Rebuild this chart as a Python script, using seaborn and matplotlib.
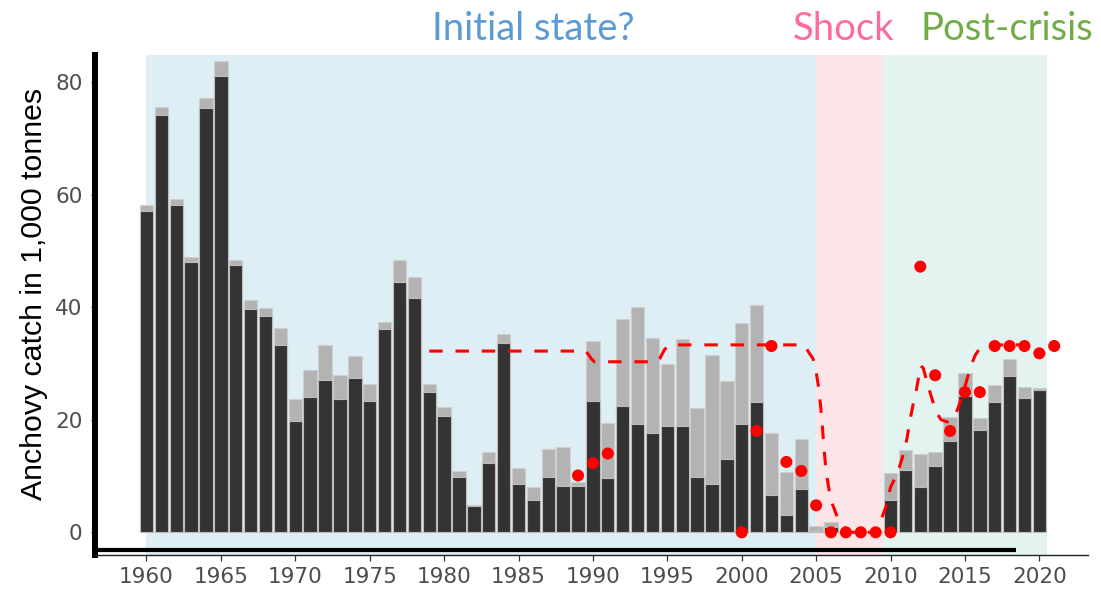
import numpy as np
import pandas as pd
import matplotlib
matplotlib.use("Agg")
import matplotlib.pyplot as plt
import seaborn as sns

# Annual anchovy catch (thousand tonnes): total landings and the retained part
years = list(range(1960, 2021))
catch_total = [58.2, 75.5, 59.3, 48.9, 77.2, 83.8, 48.3, 41.2, 39.9, 36.3,
               23.6, 28.9, 33.3, 28.0, 31.3, 26.4, 37.4, 48.3, 45.3, 26.3,
               22.2, 10.9, 4.9, 14.3, 35.2, 11.5, 8.0, 14.8, 15.1, 9.0,
               34.0, 19.5, 37.9, 40.1, 34.6, 29.9, 34.3, 22.0, 31.5, 26.9,
               37.1, 40.4, 17.6, 10.8, 16.5, 1.1, 1.9, 0.0, 0.0, 0.0,
               10.5, 14.6, 14.0, 14.3, 20.4, 28.3, 20.3, 26.1, 30.8, 25.9,
               25.6]
catch_main = [57.1, 74.1, 58.2, 48.1, 75.3, 81.0, 47.5, 39.6, 38.5, 33.3,
              19.8, 24.0, 27.0, 23.6, 27.5, 23.4, 36.2, 44.5, 41.7, 25.0,
              20.6, 9.9, 4.7, 12.4, 33.6, 8.5, 5.7, 9.9, 8.2, 8.2,
              23.3, 9.6, 22.5, 19.2, 17.6, 18.9, 18.9, 9.9, 8.5, 13.1,
              19.2, 23.1, 6.6, 3.0, 7.7, 0.2, 0.9, 0.0, 0.0, 0.0,
              5.8, 11.1, 8.0, 11.8, 16.2, 24.2, 18.1, 23.1, 27.8, 23.9,
              25.3]

# Annual quota / advice points
quota_years = [1989, 1990, 1991, 2000, 2001, 2002, 2003, 2004, 2005, 2006,
               2007, 2008, 2009, 2010, 2012, 2013, 2014, 2015, 2016, 2017,
               2018, 2019, 2020, 2021]
quota_vals = [10.1, 12.3, 14.0, 0.0, 18.0, 33.1, 12.5, 10.9, 4.8, 0.0,
              0.0, 0.0, 0.0, 0.0, 47.2, 27.9, 18.0, 24.9, 24.9, 33.1,
              33.1, 33.1, 31.8, 33.1]

# Reference level curve
ref_x = [1979, 1989.5, 1989.7, 1989.9, 1990.1, 1994.3, 1994.5, 1994.8, 1995.1,
         2004.2, 2004.5, 2004.8, 2005.0, 2005.15, 2005.3, 2005.4, 2005.5, 2005.6,
         2005.75, 2005.9, 2006.1, 2006.35, 2006.7, 2007.2, 2009.2, 2009.4, 2009.7,
         2010.0, 2010.3, 2010.6, 2010.9, 2011.1, 2011.3, 2011.5, 2011.7, 2011.85,
         2012.0, 2012.2, 2012.5, 2012.8, 2013.1, 2013.4, 2013.8, 2014.2, 2014.5,
         2014.8, 2015.1, 2015.4, 2015.7, 2016.0, 2016.4, 2019.0]
ref_y = [32.2, 32.2, 31.6, 30.8, 30.3, 30.3, 30.9, 32.4, 33.3,
         33.3, 32.0, 30.8, 28.5, 26.0, 22.5, 19.5, 16.0, 12.8,
         9.5, 7.0, 5.0, 3.2, 1.3, 0.0, 0.0, 2.5, 4.6,
         8.0, 9.6, 11.6, 14.2, 16.6, 19.8, 22.5, 24.8, 27.0,
         29.6, 29.2, 26.2, 23.6, 21.2, 20.0, 19.6, 20.2, 21.8,
         24.2, 26.8, 29.6, 31.5, 32.7, 33.3, 33.3]

# Periods
periods = ["Initial state?", "Shock", "Post-crisis"]
period_start = [1960, 2005, 2009.5]
period_end = [2005, 2009.5, 2020.5]
period_fill = ["#deeef5", "#fde4e7", "#e3f4f0"]
period_text = ["#5b9bd5", "#ff6b99", "#70ad47"]

sns.set_theme(style="white")
plt.rcParams["font.family"] = ["DejaVu Sans"]

W, H = 1101, 590
fig = plt.figure(figsize=(W / 100, H / 100), dpi=100)
ax = fig.add_axes([95 / W, 35 / H, (1088 - 95) / W, (555 - 55) / H])

for s, e, c in zip(period_start, period_end, period_fill):
    ax.axvspan(s, e, color=c, lw=0, zorder=0)

df = pd.DataFrame({"year": years, "total": catch_total, "main": catch_main})
sns.barplot(data=df, x="year", y="total", native_scale=True, color="#b3b3b3",
            saturation=1, width=0.9, edgecolor="#cfcfcf", linewidth=0.8,
            errorbar=None, ax=ax, zorder=2)
sns.barplot(data=df, x="year", y="main", native_scale=True, color="#333333",
            saturation=1, width=0.9, edgecolor="#bdbdbd", linewidth=0.8,
            errorbar=None, ax=ax, zorder=3)

sns.lineplot(x=ref_x, y=ref_y, sort=False, estimator=None, color="#ff0000",
             lw=2.2, dashes=False, ax=ax, zorder=4)
ax.lines[-1].set_dashes([4.4, 4.2])

sns.scatterplot(x=quota_years, y=quota_vals, color="#ff0000", s=75,
                edgecolor="none", ax=ax, zorder=5, clip_on=False)

ax.set_xlim(1956.54, 2023.27)
ax.set_ylim(-4.03, 84.8)
ax.set_xticks(list(range(1960, 2021, 5)))
ax.set_yticks([0, 20, 40, 60, 80])
ax.set_xlabel("")
ax.set_ylabel("Anchovy catch in 1,000 tonnes", fontsize=21.8, color="black",
              family=["Liberation Sans", "DejaVu Sans"])
ax.yaxis.set_label_coords(-0.0473, 0.522)

for side in ["top", "right"]:
    ax.spines[side].set_visible(False)
ax.spines["left"].set_linewidth(4.3)
ax.spines["left"].set_color("black")
ax.spines["bottom"].set_linewidth(1.0)
ax.spines["bottom"].set_color("#222222")

# heavy base rule under the bars
ax.axhline(-3.1, xmin=0, xmax=(1016 - 95) / (1088 - 95), color="black",
           lw=3.0, zorder=6, solid_capstyle="butt")

ax.tick_params(axis="x", which="major", bottom=True, length=4.5, width=0.9,
               color="#333333", labelsize=15.5, labelcolor="#4d4d4d", pad=4)
ax.tick_params(axis="y", which="major", left=True, length=3, width=0.9,
               color="#333333", labelsize=15.5, labelcolor="#4d4d4d", pad=6)

xs = [533.5, 843.5, 1007]
for label, col, x in zip(periods, period_text, xs):
    fig.text(x / W, 1 - 40 / H, label, color=col, fontsize=27.5,
             family=["Lato", "DejaVu Sans"], ha="center", va="baseline")

fig.savefig("out.png", dpi=100)
